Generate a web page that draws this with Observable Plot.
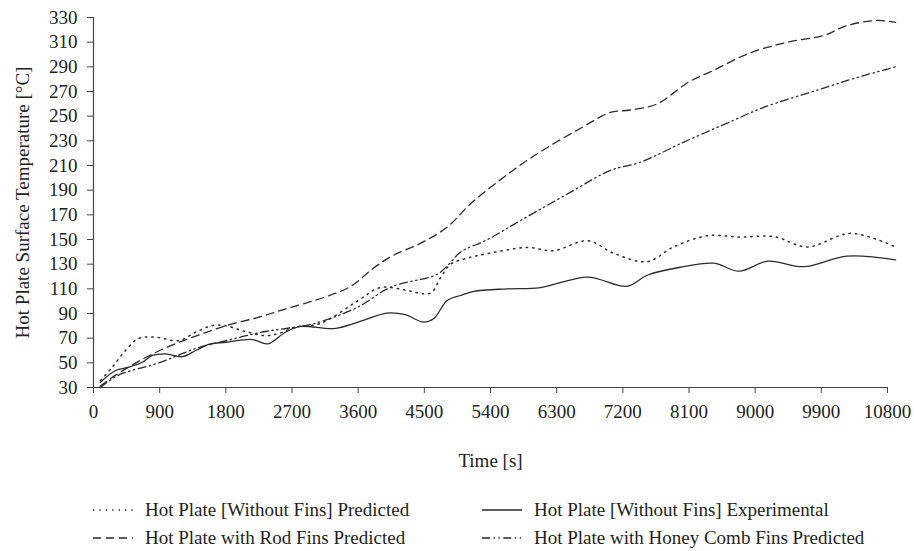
<!DOCTYPE html>
<html><head><meta charset="utf-8">
<script src="https://cdn.jsdelivr.net/npm/d3@7"></script>
<script src="https://cdn.jsdelivr.net/npm/@observablehq/plot@0.6"></script>
<style>
body{margin:0;background:#fff;font-family:"Liberation Serif",serif;}
#wrap{position:relative;width:914px;height:551px;overflow:hidden;}
.leg{position:absolute;height:24px;display:flex;align-items:center;white-space:nowrap;font-size:19px;color:#231f20;}
.leg svg{margin-right:12px;}
</style></head><body><div id="wrap"></div>
<script>
// Tick labels
const xTicks = [0, 900, 1800, 2700, 3600, 4500, 5400, 6300, 7200, 8100, 9000, 9900, 10800];
const yTicks = [30, 50, 70, 90, 110, 130, 150, 170, 190, 210, 230, 250, 270, 290, 310, 330];
const xLabel = "Time [s]";
const yLabel = "Hot Plate Surface Temperature [°C]";

// Series names
const seriesNames = [
  "Hot Plate [Without Fins] Predicted",
  "Hot Plate [Without Fins] Experimental",
  "Hot Plate with Rod Fins Predicted",
  "Hot Plate with Honey Comb Fins Predicted"
];

// Hot Plate [Without Fins] Predicted (dotted)
const tNoFinPred = [95, 255, 435, 610, 845, 1160, 1390, 1620, 1800, 2030, 2340, 2520, 2750, 3090, 3600, 3900, 4270, 4490, 4600, 4720, 4860, 5090, 5400, 5900, 6260, 6720, 7070, 7530, 7890, 8350, 8800, 9250, 9710, 10300, 10910];
const vNoFinPred = [35.7, 46.5, 60, 69.7, 70.8, 68, 74.8, 80.3, 80, 76, 72, 73.8, 79, 82, 100.5, 111, 108.6, 106, 107, 119, 130, 135, 139, 143.5, 141, 149, 139, 132, 144, 153, 152, 152.4, 144, 155, 144];

// Hot Plate [Without Fins] Experimental (solid)
const tNoFinExp = [95, 300, 480, 665, 800, 980, 1210, 1390, 1565, 1800, 2160, 2370, 2610, 2815, 3270, 3600, 3990, 4240, 4490, 4630, 4810, 4990, 5170, 5630, 6080, 6720, 7260, 7530, 7980, 8440, 8780, 9170, 9660, 10250, 10910];
const vNoFinExp = [34.3, 43.8, 46.5, 50.5, 56, 57.3, 55, 60, 64.9, 66.7, 68.9, 65.4, 74.8, 79.5, 77.8, 83, 90.3, 89, 83, 86, 100.5, 104.6, 108, 110, 111, 119.5, 112, 121, 127.5, 130.8, 124.3, 132.4, 128, 136.5, 133.5];

// Hot Plate with Rod Fins Predicted (dashed)
const tRod = [90, 300, 900, 1800, 2250, 2540, 3130, 3500, 3770, 4040, 4450, 4810, 5130, 5580, 6040, 6620, 7030, 7300, 7670, 8090, 8430, 8900, 9440, 9930, 10250, 10660, 10910];
const vRod = [31, 40, 60, 80, 87, 92.4, 103, 112, 125, 136, 147, 160, 179, 200.5, 219.7, 240, 253, 255, 260, 277.5, 287, 300.6, 310, 315.4, 323.5, 327.6, 326];

// Hot Plate with Honey Comb Fins Predicted (dash-dot-dot)
const tHoney = [95, 340, 890, 1390, 1840, 2300, 2750, 2990, 3590, 4040, 4680, 4860, 4990, 5360, 5810, 6490, 7030, 7440, 8030, 8700, 9110, 9890, 10340, 10910];
const vHoney = [30, 40, 50, 61.6, 68.5, 75, 79, 81.6, 95, 111.3, 122, 131.6, 139.7, 150, 165.4, 188.4, 206, 212.7, 229, 246.5, 257, 272, 280.5, 290];

const dashes = ["1.4,5", null, "8,5", "8,3.5,1.4,3.5,1.4,3.5"];
const widths = [1.5, 1.3, 1.3, 1.3];
const lineColor = "#2b2b2b";

const seriesT = [tNoFinPred, tNoFinExp, tRod, tHoney];
const seriesV = [vNoFinPred, vNoFinExp, vRod, vHoney];
const rows = seriesT.map((ts, i) => ts.map((t, j) => ({series: seriesNames[i], t, v: seriesV[i][j]})));

const font = "Liberation Serif";
const fs = 19;

const chart = Plot.plot({
  width: 914,
  height: 475,
  marginLeft: 93,
  marginRight: 27,
  marginTop: 17,
  marginBottom: 88,
  style: {fontFamily: font, fontSize: fs + "px", color: "#231f20", background: "#fff", overflow: "visible"},
  x: {type: "linear", domain: [0, 10800]},
  y: {type: "linear", domain: [30, 330]},
  marks: [
    Plot.axisX({ticks: xTicks, tickSize: 6, tickPadding: 11, tickFormat: d => String(d), label: null, stroke: "#444", fontSize: fs}),
    Plot.axisY({ticks: yTicks, tickSize: 6, tickPadding: 10, tickFormat: d => String(d), label: null, stroke: "#444", fontSize: fs}),
    Plot.ruleY([30], {stroke: "#444", strokeWidth: 1.2}),
    Plot.ruleX([0], {stroke: "#444", strokeWidth: 1.2}),
    ...rows.map((r, i) => Plot.line(r, {
      x: "t", y: "v", curve: "catmull-rom",
      stroke: lineColor, strokeWidth: widths[i],
      strokeDasharray: dashes[i] || undefined
    })),
    Plot.text([xLabel], {text: d => d, frameAnchor: "bottom", dy: 73, fontSize: fs, lineAnchor: "middle", textAnchor: "middle", fill: "#231f20"}),
    Plot.text([yLabel], {text: d => d, frameAnchor: "left", dx: -71, rotate: -90, fontSize: fs, lineAnchor: "middle", textAnchor: "middle", fill: "#231f20"})
  ]
});

const wrap = document.getElementById("wrap");
wrap.appendChild(chart);

// Legend (HTML, below the SVG)
const legendPos = [
  {left: 93, cy: 510},
  {left: 482, cy: 510},
  {left: 93, cy: 538},
  {left: 482, cy: 538}
];
seriesNames.forEach((name, i) => {
  const p = legendPos[i];
  const div = document.createElement("div");
  div.className = "leg";
  div.style.left = p.left + "px";
  div.style.top = (p.cy - 12) + "px";
  const da = dashes[i] ? `stroke-dasharray="${dashes[i]}"` : "";
  div.innerHTML = `<svg width="40" height="10"><line x1="0" y1="5" x2="40" y2="5" stroke="${lineColor}" stroke-width="${widths[i]}" ${da}/></svg><span>${name}</span>`;
  wrap.appendChild(div);
});
</script></body></html>
